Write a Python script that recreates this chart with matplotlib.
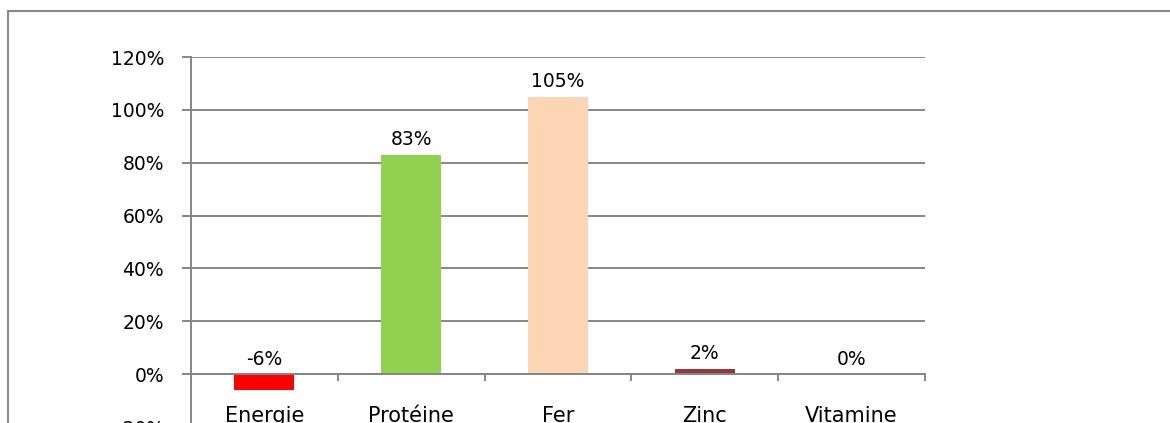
import matplotlib.pyplot as plt
from matplotlib.lines import Line2D
import numpy as np

# data
categories = ['Energie', 'Protéine', 'Fer', 'Zinc', 'Vitamine']
values = [-0.06, 0.83, 1.05, 0.02, 0.0]
colors = ['#FF0000', '#92D050', '#FCD5B5', '#953735', '#4F81BD']

W, H = 1170, 423
fig = plt.figure(figsize=(W / 100, H / 100), dpi=100)
plt.rcParams['font.family'] = 'DejaVu Sans'

# plot area: x 191..925 px, y 120% at 57 px, -20% at ~427 px
ax = fig.add_axes([191 / W, (H - 427) / H, (925 - 191) / W, (427 - 57) / H])

pos = np.arange(len(categories))
ax.bar(pos, values, width=0.41, color=colors, zorder=3)

# data labels sit above the bar (or above zero for negative bars)
for x, v in zip(pos, values):
    ax.annotate('{:.0f}%'.format(v * 100), xy=(x, max(v, 0)), xytext=(0, 4),
                textcoords='offset points', ha='center', va='bottom',
                fontsize=13.5, color='black')

ax.set_xlim(-0.5, len(categories) - 0.5)
ax.set_ylim(-0.2, 1.2)

grey = '#868686'
yt = np.arange(-0.2, 1.21, 0.2)
ax.set_yticks(yt)
ax.set_yticklabels(['{:.0f}%'.format(t * 100) for t in yt])
ax.yaxis.grid(True, color=grey, linewidth=1.4, zorder=0)
ax.tick_params(axis='y', length=6.5, width=1.4, color=grey, pad=13,
               labelsize=13.5)

# category axis crosses at zero
ax.spines['bottom'].set_position(('data', 0))
ax.spines['bottom'].set_color(grey)
ax.spines['bottom'].set_linewidth(1.4)
ax.spines['bottom'].set_zorder(4)
ax.spines['left'].set_color(grey)
ax.spines['left'].set_linewidth(1.4)
ax.spines['top'].set_visible(False)
ax.spines['right'].set_visible(False)

ax.set_xticks(pos)
ax.set_xticklabels(categories)
ax.set_xticks(np.arange(-0.5, len(categories)), minor=True)
ax.tick_params(axis='x', which='major', length=0, pad=23, labelsize=15)
ax.tick_params(axis='x', which='minor', length=5, width=1.4, color=grey,
               direction='out')

# outer chart border (cut off on the right and bottom)
fig.add_artist(Line2D([8 / W, 8 / W], [0, (H - 11) / H], color='#898989',
                      linewidth=1.5, transform=fig.transFigure))
fig.add_artist(Line2D([8 / W, 1], [(H - 11) / H, (H - 11) / H],
                      color='#898989', linewidth=1.5,
                      transform=fig.transFigure))

fig.savefig('out.png', dpi=100)
